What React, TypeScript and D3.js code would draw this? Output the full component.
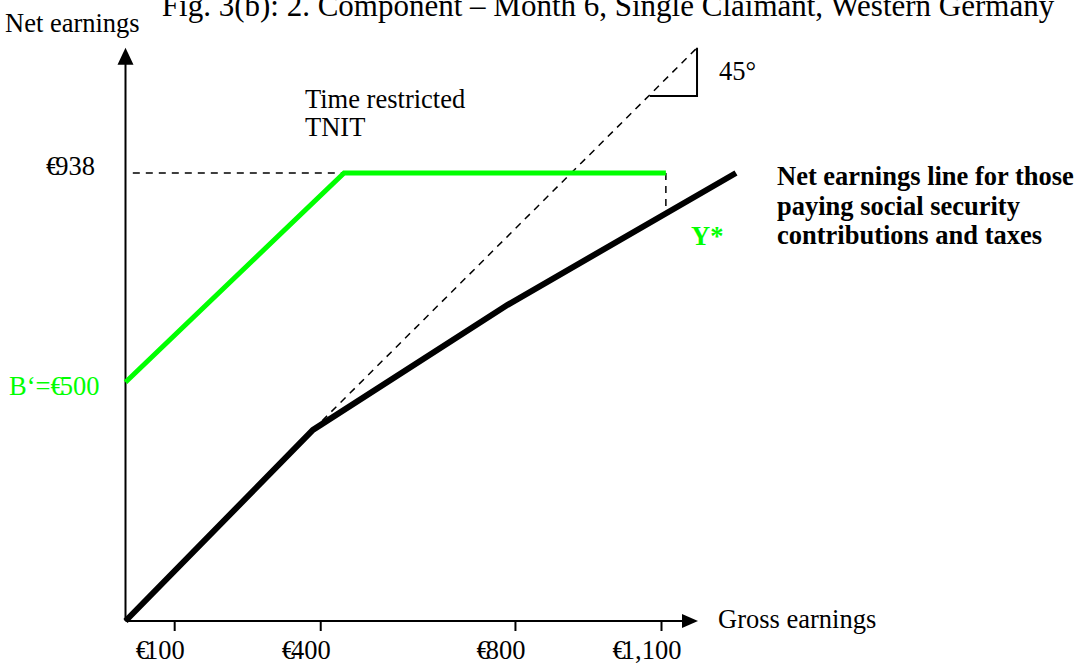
import { useEffect, useRef } from "react"
import * as d3 from "d3"

const W = 1081
const H = 667

// gross earnings (€) -> net earnings (€)
const grossTicks = [100, 400, 800, 1100]
const grossTickLabels = ["€100", "€400", "€800", "€1,100"]
const netEarningsLine: [number, number][] = [
  [0, 0],
  [385, 400],
  [785, 662],
  [1254, 938],
]
const tnitLine: [number, number][] = [
  [0, 500],
  [449, 938],
  [1110, 938],
]
const fortyFiveLine: [number, number][] = [
  [385, 400],
  [1174, 1200],
]
const triangle: [number, number][] = [
  [1077, 1099],
  [1174, 1099],
  [1174, 1200],
]
const capLevel = 938
const capStart = 15
const benefitLevel = 500
const yStarPoint = { gross: 1110, net: 862 }
const axisMax = { gross: 1176, net: 1200 }

const SERIF = "'Liberation Serif', 'Times New Roman', serif"
const GREEN = "#00ff00"
const FS = 26.5

export default function App() {
  const svgRef = useRef<SVGSVGElement>(null)

  useEffect(() => {
    if (!svgRef.current) return
    const svg = d3.select(svgRef.current)
    svg.selectAll("*").remove()

    const x = d3.scaleLinear().domain([0, 1100]).range([125.5, 661])
    const y = d3.scaleLinear().domain([0, 938]).range([621, 173])

    const line = d3
      .line<[number, number]>()
      .x((d) => x(d[0]))
      .y((d) => y(d[1]))

    const x0 = x(0)
    const y0 = y(0)
    const yTop = y(axisMax.net)
    const xRight = x(axisMax.gross)

    // title
    svg
      .append("text")
      .attr("x", 608)
      .attr("y", 16)
      .attr("text-anchor", "middle")
      .style("font-family", SERIF)
      .style("font-size", "31px")
      .text("Fig. 3(b): 2. Component – Month 6, Single Claimant, Western Germany")

    svg
      .append("text")
      .attr("x", 5)
      .attr("y", 32)
      .style("font-family", SERIF)
      .style("font-size", FS + "px")
      .text("Net earnings")

    // dashed helper lines
    const dash = (sel: d3.Selection<SVGPathElement, unknown, null, undefined>) =>
      sel.attr("fill", "none").attr("stroke", "#000").attr("stroke-width", 1.5).attr("stroke-dasharray", "7,6")

    svg
      .append("path")
      .attr("d", line([[capStart, capLevel], tnitLine[1]]))
      .call(dash)
    svg
      .append("path")
      .attr("d", line(fortyFiveLine))
      .call(dash)
    svg
      .append("path")
      .attr("d", line([[yStarPoint.gross, capLevel], [yStarPoint.gross, yStarPoint.net]]))
      .call(dash)

    // 45° triangle
    svg
      .append("path")
      .attr("d", line(triangle))
      .attr("fill", "none")
      .attr("stroke", "#000")
      .attr("stroke-width", 2)

    // axes
    svg
      .append("line")
      .attr("x1", x0)
      .attr("y1", y0)
      .attr("x2", x0)
      .attr("y2", yTop + 14)
      .attr("stroke", "#000")
      .attr("stroke-width", 2)
    svg
      .append("path")
      .attr("d", `M${x0},${yTop} L${x0 - 8},${yTop + 17} L${x0 + 8},${yTop + 17} Z`)
      .attr("fill", "#000")

    svg
      .append("line")
      .attr("x1", x0)
      .attr("y1", y0)
      .attr("x2", xRight - 14)
      .attr("y2", y0)
      .attr("stroke", "#000")
      .attr("stroke-width", 2)
    svg
      .append("path")
      .attr("d", `M${xRight},${y0} L${xRight - 16},${y0 - 7} L${xRight - 16},${y0 + 7} Z`)
      .attr("fill", "#000")

    const xAxis = d3
      .axisBottom(x)
      .tickValues(grossTicks)
      .tickSize(10)
      .tickFormat(() => "")
    const gx = svg.append("g").attr("transform", `translate(0,${y0})`).call(xAxis)
    gx.select(".domain").remove()
    gx.selectAll(".tick line").attr("stroke", "#000").attr("stroke-width", 2)

    // tick labels, euro sign squeezed onto the first digit as in the original
    grossTicks.forEach((t, i) => {
      svg
        .append("text")
        .attr("x", x(t) - 14)
        .attr("y", 659)
        .attr("dx", "0 -4")
        .attr("text-anchor", "middle")
        .style("font-family", SERIF)
        .style("font-size", FS + "px")
        .text(grossTickLabels[i])
    })

    svg
      .append("text")
      .attr("x", 718)
      .attr("y", 628)
      .style("font-family", SERIF)
      .style("font-size", FS + "px")
      .text("Gross earnings")

    // y labels
    svg
      .append("text")
      .attr("x", 95)
      .attr("y", y(capLevel) + 2)
      .attr("dx", "0 -4")
      .attr("text-anchor", "end")
      .style("font-family", SERIF)
      .style("font-size", FS + "px")
      .text("€" + capLevel)

    svg
      .append("text")
      .attr("x", 9)
      .attr("y", y(benefitLevel) + 13)
      .attr("dx", "0 0 0 0 -4")
      .attr("fill", GREEN)
      .style("font-family", SERIF)
      .style("font-size", FS + "px")
      .text("B‘=€" + benefitLevel)

    // time restricted TNIT line
    svg
      .append("path")
      .attr("d", line(tnitLine))
      .attr("fill", "none")
      .attr("stroke", GREEN)
      .attr("stroke-width", 5)

    // net earnings line
    svg
      .append("path")
      .attr("d", line(netEarningsLine))
      .attr("fill", "none")
      .attr("stroke", "#000")
      .attr("stroke-width", 6)

    svg
      .append("text")
      .attr("x", 719)
      .attr("y", 80)
      .style("font-family", SERIF)
      .style("font-size", FS + "px")
      .text("45°")

    const tr = svg
      .append("text")
      .style("font-family", SERIF)
      .style("font-size", FS + "px")
    tr.append("tspan").attr("x", 305).attr("y", 108).text("Time restricted")
    tr.append("tspan").attr("x", 305).attr("y", 136).text("TNIT")

    svg
      .append("text")
      .attr("x", 691)
      .attr("y", 245)
      .attr("fill", GREEN)
      .style("font-family", SERIF)
      .style("font-size", FS + "px")
      .style("font-weight", "bold")
      .text("Y*")

    const lbl = svg
      .append("text")
      .style("font-family", SERIF)
      .style("font-size", FS + "px")
      .style("font-weight", "bold")
    ;["Net earnings line for those", "paying social security", "contributions and taxes"].forEach((s, i) => {
      lbl.append("tspan").attr("x", 777).attr("y", 185 + i * 29.5).text(s)
    })
  }, [])

  return (
    <svg
      ref={svgRef}
      width={W}
      height={H}
      style={{ position: "absolute", left: 0, top: 0, background: "#fff" }}
    />
  )
}
